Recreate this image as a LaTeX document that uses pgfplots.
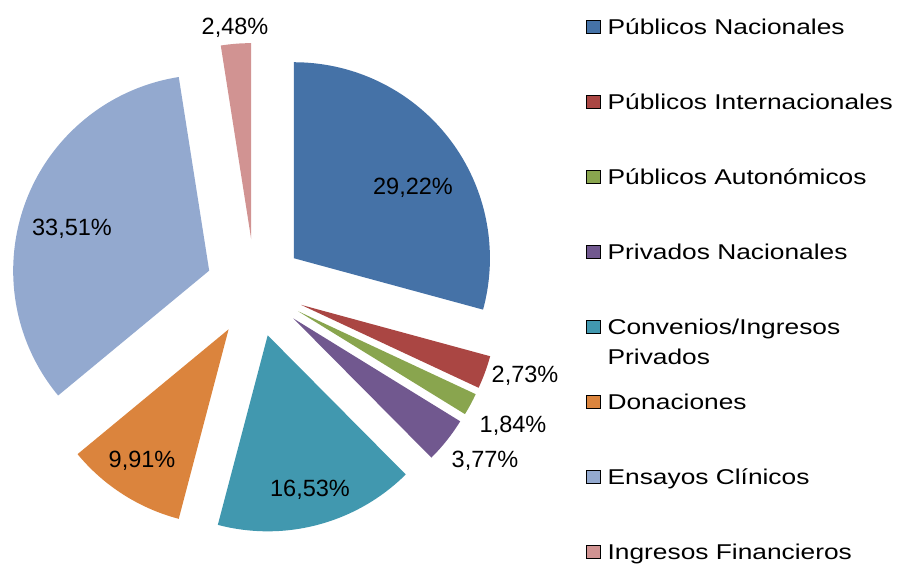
\documentclass[border=0pt]{standalone}
\usepackage{pgfplots}
\pgfplotsset{compat=1.18}
\usepackage{fontspec}
\setmainfont{Liberation Sans}
\newfontfamily\legfont[FakeStretch=1.23]{Liberation Sans}

\definecolor{cNac}{HTML}{4572A7}
\definecolor{cInt}{HTML}{AA4643}
\definecolor{cAut}{HTML}{89A54E}
\definecolor{cPriv}{HTML}{71588F}
\definecolor{cConv}{HTML}{4198AF}
\definecolor{cDon}{HTML}{DB843D}
\definecolor{cEns}{HTML}{93A9CF}
\definecolor{cFin}{HTML}{D19392}

\begin{document}
\begin{tikzpicture}
\begin{axis}[
    at={(0,0)}, anchor=south west,
    scale only axis,
    width=898bp, height=565bp,
    xmin=0, xmax=898, ymin=0, ymax=565,
    hide axis,
    clip=false,
    legend cell align=left,
    legend image code/.code={\fill[#1] (0bp,-5bp) rectangle (14bp,8bp);},
    legend style={
        at={(axis cs:586,548)}, anchor=north west,
        draw=none, fill=none, inner sep=0pt,
        row sep=53bp,
        font=\legfont\fontsize{21.4bp}{30bp}\selectfont,
        nodes={inner sep=0pt, text height=17bp, text depth=5bp},
        /tikz/every odd column/.style={column sep=7bp},
    },
]
% slices, clockwise from 12 o'clock, each pulled out 49 units from (255,277)
% 3.60036 = 360/99.99 (the shares add up to 99.99)
\def\cum{0}
\foreach \val/\col in {29.22/cNac, 2.73/cInt, 1.84/cAut, 3.77/cPriv,
                       16.53/cConv, 9.91/cDon, 33.51/cEns, 2.48/cFin}{
    \pgfmathsetmacro\va{90-3.60036*\cum}
    \pgfmathsetmacro\vb{90-3.60036*(\cum+\val)}
    \pgfmathsetmacro\vm{(\va+\vb)/2}
    \pgfmathsetmacro\ox{255+49*cos(\vm)}
    \pgfmathsetmacro\oy{277+49*sin(\vm)}
    \edef\temp{\noexpand\fill[\col] (axis cs:\ox,\oy) -- ++(\va:196bp)
        arc[start angle=\va, end angle=\vb, radius=196bp] -- cycle;}
    \temp
    \pgfmathsetmacro\nc{\cum+\val}
    \global\let\cum\nc
}

% data labels
\foreach \x/\y/\t in {413/370/{29,22\%}, 525/182/{2,73\%}, 513/132/{1,84\%},
                      485/97/{3,77\%}, 310/68/{16,53\%}, 142/97/{9,91\%},
                      72/329/{33,51\%}, 235/530/{2,48\%}}{
    \edef\temp{\noexpand\node[anchor=base, inner sep=0pt,
        font=\noexpand\fontsize{23.5bp}{28bp}\noexpand\selectfont]
        at (axis cs:\x,\y) {\t};}
    \temp
}

\addlegendimage{fill=cNac}
\addlegendentry{Públicos Nacionales}
\addlegendimage{fill=cInt}
\addlegendentry{Públicos Internacionales}
\addlegendimage{fill=cAut}
\addlegendentry{Públicos Autonómicos}
\addlegendimage{fill=cPriv}
\addlegendentry{Privados Nacionales}
\addlegendimage{fill=cConv}
\addlegendentry{\begin{tabular}[t]{@{}l@{}}Convenios/Ingresos\\Privados\end{tabular}}
\addlegendimage{fill=cDon}
\addlegendentry{Donaciones}
\addlegendimage{fill=cEns}
\addlegendentry{Ensayos Clínicos}
\addlegendimage{fill=cFin}
\addlegendentry{Ingresos Financieros}
\end{axis}
\pgfresetboundingbox
\useasboundingbox (0,0) rectangle (898bp,565bp);
\end{tikzpicture}
\end{document}
